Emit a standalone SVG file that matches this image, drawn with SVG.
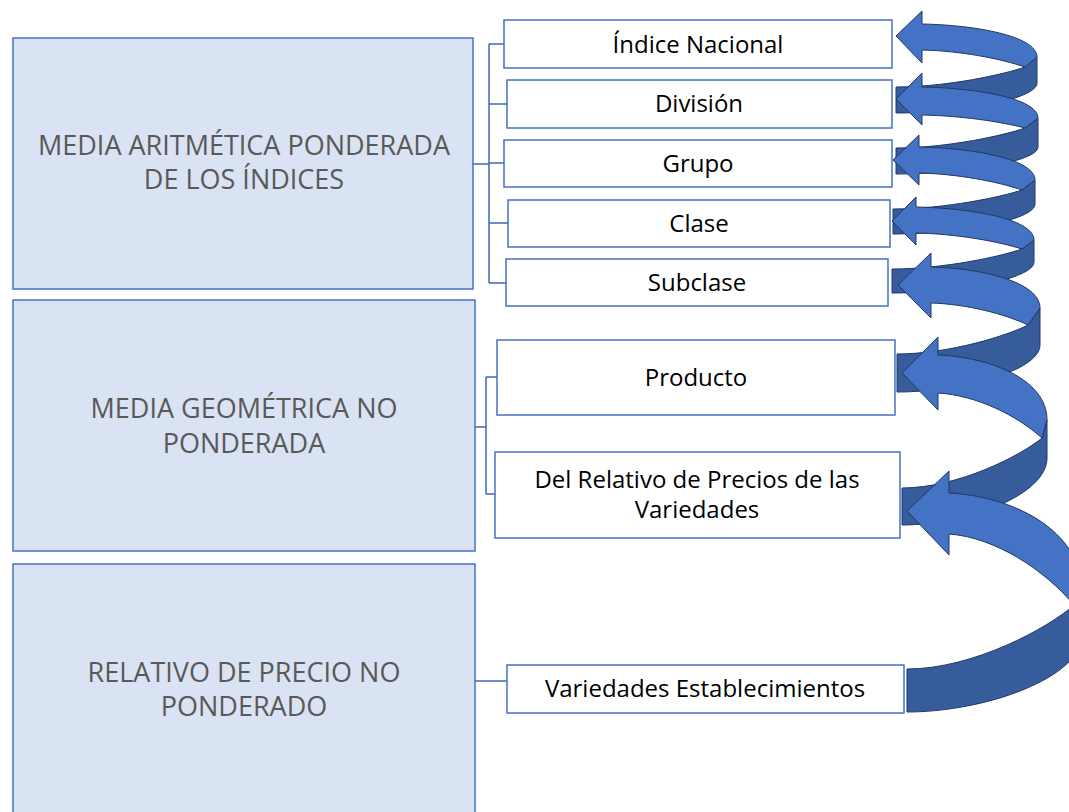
<svg xmlns="http://www.w3.org/2000/svg" width="1069" height="812" viewBox="0 0 1069 812">
<style>
.lb{fill:#DAE3F3;stroke:#4472C4;stroke-width:1.5}
.rb{fill:#FFFFFF;stroke:#4472C4;stroke-width:1.5}
.lt{font-family:"Open Sans","Noto Sans","Liberation Sans",sans-serif;font-size:27px;font-weight:400;fill:#595959;text-anchor:middle}
.rt{font-family:"Open Sans","Noto Sans","Liberation Sans",sans-serif;font-size:24px;fill:#000000;text-anchor:middle}
.cn{fill:none;stroke:#3F68B2;stroke-width:1.5}
.ar{fill:#4472C4;stroke:#1F3864;stroke-width:1;stroke-linejoin:round}
.dk{fill:#375C9C;stroke:#1F3864;stroke-width:1;stroke-linejoin:round}
</style>
<rect width="1069" height="812" fill="#FFFFFF"/>
<g id="connectors">
<path class="cn" d="M473 164H489M489 44V283M489 44H504M489 104H507M489 163H504M489 223H508M489 283H506"/>
<path class="cn" d="M475 427H486M486 377V494M486 377H497M486 494H495"/>
<path class="cn" d="M475 681H507"/>
</g>
<g id="node-media-aritmetica">
<rect class="lb" x="13" y="38" width="460" height="251"/>
<text class="lt" x="244" y="155">MEDIA ARITMÉTICA PONDERADA</text>
<text class="lt" x="244" y="189">DE LOS ÍNDICES</text>
</g>
<g id="node-media-geometrica">
<rect class="lb" x="13" y="300" width="462" height="251"/>
<text class="lt" x="244" y="418">MEDIA GEOMÉTRICA NO</text>
<text class="lt" x="244" y="453">PONDERADA</text>
</g>
<g id="node-relativo">
<rect class="lb" x="13" y="564" width="462" height="270"/>
<text class="lt" x="244" y="682">RELATIVO DE PRECIO NO</text>
<text class="lt" x="244" y="716">PONDERADO</text>
</g>
<g id="node-indice-nacional">
<rect class="rb" x="504" y="20" width="388" height="48"/>
<text class="rt" x="698" y="53">Índice Nacional</text>
</g>
<g id="node-division">
<rect class="rb" x="507" y="80" width="385" height="48"/>
<text class="rt" x="699" y="112">División</text>
</g>
<g id="node-grupo">
<rect class="rb" x="504" y="140" width="388" height="47"/>
<text class="rt" x="698" y="172">Grupo</text>
</g>
<g id="node-clase">
<rect class="rb" x="508" y="200" width="382" height="47"/>
<text class="rt" x="699" y="232">Clase</text>
</g>
<g id="node-subclase">
<rect class="rb" x="506" y="259" width="382" height="47"/>
<text class="rt" x="697" y="291">Subclase</text>
</g>
<g id="node-producto">
<rect class="rb" x="497" y="340" width="398" height="75"/>
<text class="rt" x="696" y="386">Producto</text>
</g>
<g id="node-relativo-precios">
<rect class="rb" x="495" y="452" width="405" height="86"/>
<text class="rt" x="697" y="488">Del Relativo de Precios de las</text>
<text class="rt" x="697" y="518">Variedades</text>
</g>
<g id="node-variedades">
<rect class="rb" x="507" y="665" width="397" height="48"/>
<text class="rt" x="705" y="697">Variedades Establecimientos</text>
</g>
<g id="arrows">
<path class="dk" d="M1037 57L1037 83C1037 99.5 959.5 113 896 113L896 87C947.6 87 1005.6 74 1025 67Z"/>
<path class="ar" d="M896 36L922 11L922 24C975 25 1037 36 1037 57L1025 67C1000.3 58.5 960.1 50.9 922 50L922 63Z"/>
<path class="dk" d="M1038 118L1038 147C1038 161.9 959.9 174 896 174L896 148C947.6 148 1005.6 135 1025 128Z"/>
<path class="ar" d="M896 99L922 73L922 87C975.4 87.9 1038 98.2 1038 118L1025 128C1000.3 121.5 960.1 115.7 922 115L922 125Z"/>
<path class="dk" d="M1035 180L1035 204C1035 220.5 956.9 234 893 234L893 209C944.6 209 1002.6 196.7 1022 190Z"/>
<path class="ar" d="M893 160L919 135L919 147C972.4 148 1035 158.9 1035 180L1022 190C997.3 181.5 957.1 173.9 919 173L919 185Z"/>
<path class="dk" d="M1034 240L1034 262C1034 279 955.9 293 892 293L892 269C944 269 1002.5 256 1022 249Z"/>
<path class="ar" d="M892 221L916 197L916 207C970.3 208 1034 218.9 1034 240L1022 249C996.6 241 955.2 233.8 916 233L916 245Z"/>
<path class="dk" d="M1040 308L1040 345C1040 370.9 961.4 392 897 392L897 354C949.4 354 1008.4 335.2 1028 325Z"/>
<path class="ar" d="M898 285L931 253L931 267C981.1 268.2 1040 281.8 1040 308L1028 325C1004.7 314 966.9 304.1 931 303L931 318Z"/>
<path class="dk" d="M1047 420L1047 458C1047 494.9 967.3 525 902 525L902 488C958 488 1021 455.5 1042 438Z"/>
<path class="ar" d="M902 373L938 337L938 355C988.1 357 1047 378.4 1047 420L1042 438C1017 415.5 976.5 395.3 938 393L938 410Z"/>
<path class="dk" d="M1082 592L1082 635C1082 677.4 985.8 712 907 712L907 669C973.8 669 1049 627.4 1074 605Z"/>
<path class="ar" d="M907 511L949 471L949 493C1010.2 496 1082 528.6 1082 592L1074 605C1044 569.5 995.3 537.5 949 534L949 555Z"/>
</g>
</svg>
